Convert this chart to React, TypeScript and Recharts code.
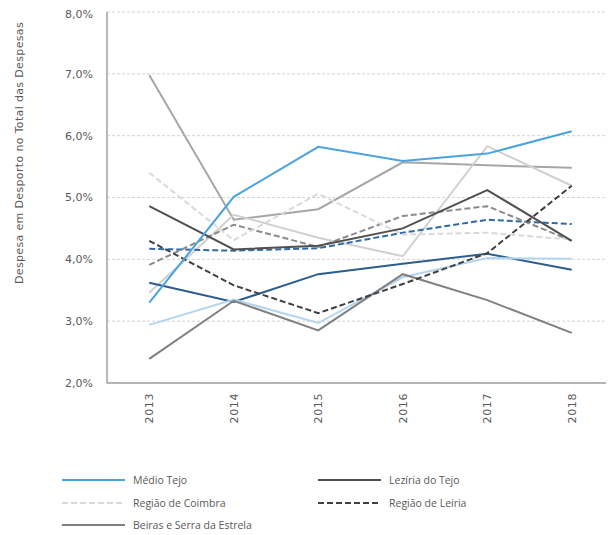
import React from 'react';
import { LineChart, Line, XAxis, YAxis, CartesianGrid } from 'recharts';

const years = ['2013', '2014', '2015', '2016', '2017', '2018'];
const yTicks = [2, 3, 4, 5, 6, 7, 8];

const medioTejo = [3.30, 5.01, 5.82, 5.59, 5.71, 6.07];
const leziriaTejo = [4.86, 4.16, 4.22, 4.50, 5.12, 4.30];
const regiaoCoimbra = [5.40, 4.31, 5.06, 4.40, 4.43, 4.32];
const regiaoLeiria = [4.30, 3.58, 3.13, 3.60, 4.10, 5.19];
const beirasSerraEstrela = [2.39, 3.33, 2.85, 3.76, 3.34, 2.81];
const serieCinza = [6.98, 4.64, 4.81, 5.57, 5.52, 5.48];
const serieCinzaClaro = [3.46, 4.72, 4.35, 4.05, 5.83, 5.19];
const serieAzulEscuro = [3.62, 3.31, 3.76, 3.93, 4.09, 3.83];
const serieAzulClaro = [2.94, 3.35, 2.97, 3.71, 4.02, 4.01];
const serieAzulTracejado = [4.17, 4.14, 4.18, 4.43, 4.64, 4.57];
const serieCinzaTracejado = [3.91, 4.56, 4.20, 4.70, 4.86, 4.30];

type S = { key: string; name: string; values: number[]; color: string; dash?: string; legend: boolean };

const series: S[] = [
  { key: 's6', name: 'Série 6', values: serieCinza, color: '#a6a6a6', legend: false },
  { key: 's7', name: 'Série 7', values: serieCinzaClaro, color: '#d0d0d0', legend: false },
  { key: 's8', name: 'Série 8', values: serieAzulEscuro, color: '#2c5d8f', legend: false },
  { key: 's9', name: 'Série 9', values: serieAzulClaro, color: '#b4d5ef', legend: false },
  { key: 's10', name: 'Série 10', values: serieAzulTracejado, color: '#2e6aa6', dash: '6 3', legend: false },
  { key: 's11', name: 'Série 11', values: serieCinzaTracejado, color: '#8a8a8a', dash: '6 3', legend: false },
  { key: 'beiras', name: 'Beiras e Serra da Estrela', values: beirasSerraEstrela, color: '#808080', legend: true },
  { key: 'leiria', name: 'Região de Leiria', values: regiaoLeiria, color: '#404040', dash: '6 3', legend: true },
  { key: 'coimbra', name: 'Região de Coimbra', values: regiaoCoimbra, color: '#d9d9d9', dash: '6 3', legend: true },
  { key: 'leziria', name: 'Lezíria do Tejo', values: leziriaTejo, color: '#505050', legend: true },
  { key: 'medio', name: 'Médio Tejo', values: medioTejo, color: '#4aa3df', legend: true },
];

const legendOrder = ['medio', 'leziria', 'coimbra', 'leiria', 'beiras'];

const data = years.map((y, i) => {
  const row: Record<string, string | number> = { year: y };
  series.forEach((s) => { row[s.key] = s.values[i]; });
  return row;
});

const fmt = (v: number) => v.toFixed(1).replace('.', ',') + '%';

const XTick = (props: any) => {
  const { x, y, payload } = props;
  const ty = y + 10;
  return (
    <text x={x} y={ty} transform={`rotate(-90, ${x}, ${ty})`} textAnchor="end" dy="0.35em"
      fill="#595959" fontSize={11} fontFamily="DejaVu Sans" letterSpacing={0.6}>
      {payload.value}
    </text>
  );
};

const YLabel = (props: any) => {
  const x = 15;
  const y = 145;
  return (
    <text x={x} y={y} transform={`rotate(-90, ${x}, ${y})`} textAnchor="middle"
      fill="#595959" fontSize={11} fontFamily="DejaVu Sans" letterSpacing={0.35}>
      Despesa em Desporto no Total das Despesas
    </text>
  );
};

export default function App() {
  const legendItems = legendOrder.map((k) => series.find((s) => s.key === k)!);
  return (
    <div style={{ position: 'relative', width: 606, height: 527 }}>
      <LineChart width={606} height={527} data={data} margin={{ top: 4, right: 0, left: 0, bottom: 102 }}>
        <CartesianGrid vertical={false} stroke="#d4d4d4" strokeDasharray="3 2" />
        <XAxis dataKey="year" height={50} padding={{ left: 0, right: 0 }} scale="band"
          axisLine={{ stroke: '#a0a0a0', strokeWidth: 1.5 }} tickLine={false} tickSize={0} tickMargin={0}
          tick={<XTick />} interval={0} />
        <YAxis width={99} domain={[2, 8]} ticks={yTicks} tickFormatter={fmt}
          axisLine={{ stroke: '#a0a0a0', strokeWidth: 1.5 }} tickLine={false} tickSize={0} tickMargin={14}
          tick={{ fill: '#595959', fontSize: 11, fontFamily: 'DejaVu Sans' }} label={YLabel} />
        {series.map((s) => (
          <Line key={s.key} dataKey={s.key} name={s.name} type="linear" stroke={s.color} strokeWidth={2}
            strokeDasharray={s.dash} dot={false} activeDot={false} isAnimationActive={false} />
        ))}
      </LineChart>
      <div style={{ position: 'absolute', left: 54, top: 461, width: 520, display: 'grid',
        gridTemplateColumns: '256px 256px', rowGap: 0, fontFamily: 'Open Sans', fontSize: 10.5, color: '#595959' }}>
        {legendItems.map((s) => (
          <div key={s.key} style={{ display: 'flex', alignItems: 'center', height: 22.5 }}>
            <svg width={63} height={4} style={{ marginRight: 8 }}>
              <line x1={0} y1={2} x2={63} y2={2} stroke={s.color} strokeWidth={2} strokeDasharray={s.dash} />
            </svg>
            <span>{s.name}</span>
          </div>
        ))}
      </div>
    </div>
  );
}
